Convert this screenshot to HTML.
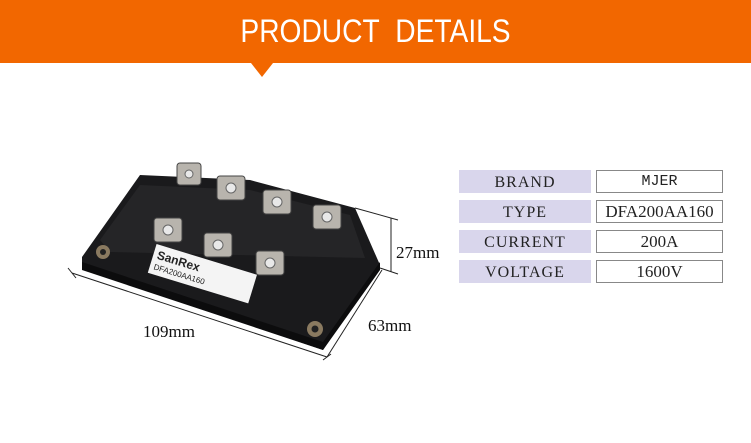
<!DOCTYPE html>
<html><head><meta charset="utf-8"><style>
body{margin:0;width:751px;height:443px;background:#fff;overflow:hidden;position:relative;font-family:"Liberation Serif",serif}
.ban{position:absolute;left:0;top:0;width:751px;height:63px;background:#f26700}
.tri{position:absolute;left:251px;top:63px;width:0;height:0;border-left:11px solid transparent;border-right:11px solid transparent;border-top:14px solid #f26700}
.tt{position:absolute;left:0;width:751px;top:13px;text-align:center;color:#fff;font:32px "Liberation Sans",sans-serif;transform:scaleX(.88)}
.l{position:absolute;left:459px;width:132px;height:23px;background:#d9d6ec;text-align:center;font-size:16px;line-height:25px;color:#222;letter-spacing:1px}
.r{position:absolute;left:596px;width:125px;height:21px;border:1px solid #888;background:#fff;text-align:center;font-size:17px;line-height:22px;color:#222}
</style></head><body>
<div class="ban"></div><div class="tri"></div>
<div class="tt">PRODUCT&nbsp; DETAILS</div>
<div class="l" style="top:170px">BRAND</div><div class="r" style="top:170px;font-family:'Liberation Mono',monospace;font-size:15px">MJER</div>
<div class="l" style="top:200px">TYPE</div><div class="r" style="top:200px">DFA200AA160</div>
<div class="l" style="top:230px">CURRENT</div><div class="r" style="top:230px">200A</div>
<div class="l" style="top:260px">VOLTAGE</div><div class="r" style="top:260px">1600V</div>
<svg width="751" height="443" style="position:absolute;left:0;top:0">
<polygon points="82,257 140,175 250,180 355,208 380,265 323,350 82,268" fill="#1a1a1c"/>
<polygon points="100,240 140,185 250,190 350,215 365,258 110,252" fill="#252527"/>
<polygon points="82,262 323,342 380,262 380,270 323,350 82,270" fill="#0c0c0d"/>
<g transform="rotate(17 200 273)"><rect x="150" y="258" width="105" height="30" fill="#f4f4f4"/>
<text x="154" y="272" font-family="Liberation Sans" font-weight="bold" font-size="12" fill="#222">SanRex</text>
<text x="154" y="283" font-family="Liberation Sans" font-size="8" fill="#222">DFA200AA160</text></g>
<g fill="#b8b4ad" stroke="#444" stroke-width="1">
<rect x="177" y="163" width="24" height="22" rx="3"/>
<rect x="217" y="176" width="28" height="24" rx="3"/>
<rect x="263" y="190" width="28" height="24" rx="3"/>
<rect x="313" y="205" width="28" height="24" rx="3"/>
<rect x="154" y="218" width="28" height="24" rx="3"/>
<rect x="204" y="233" width="28" height="24" rx="3"/>
<rect x="256" y="251" width="28" height="24" rx="3"/>
</g>
<g fill="#e8e8e8" stroke="#666"><circle cx="189" cy="174" r="4"/><circle cx="231" cy="188" r="5"/><circle cx="277" cy="202" r="5"/><circle cx="327" cy="217" r="5"/><circle cx="168" cy="230" r="5"/><circle cx="218" cy="245" r="5"/><circle cx="270" cy="263" r="5"/></g>
<circle cx="103" cy="252" r="7" fill="#8a7a60"/><circle cx="103" cy="252" r="3" fill="#222"/>
<circle cx="315" cy="329" r="8" fill="#8a7a60"/><circle cx="315" cy="329" r="3.5" fill="#222"/>
<g stroke="#222" stroke-width="1" fill="none">
<line x1="72" y1="273" x2="327" y2="357"/><line x1="68" y1="268" x2="76" y2="278"/>
<line x1="327" y1="357" x2="382" y2="270"/><line x1="323" y1="360" x2="331" y2="354"/>
<line x1="391" y1="218" x2="391" y2="272"/><line x1="355" y1="208" x2="398" y2="220"/><line x1="380" y1="268" x2="398" y2="274"/>
</g>
<text x="396" y="258" font-family="Liberation Serif" font-size="17" fill="#111">27mm</text>
<text x="368" y="331" font-family="Liberation Serif" font-size="17" fill="#111">63mm</text>
<text x="143" y="337" font-family="Liberation Serif" font-size="17" fill="#111">109mm</text>
</svg>
</body></html>
